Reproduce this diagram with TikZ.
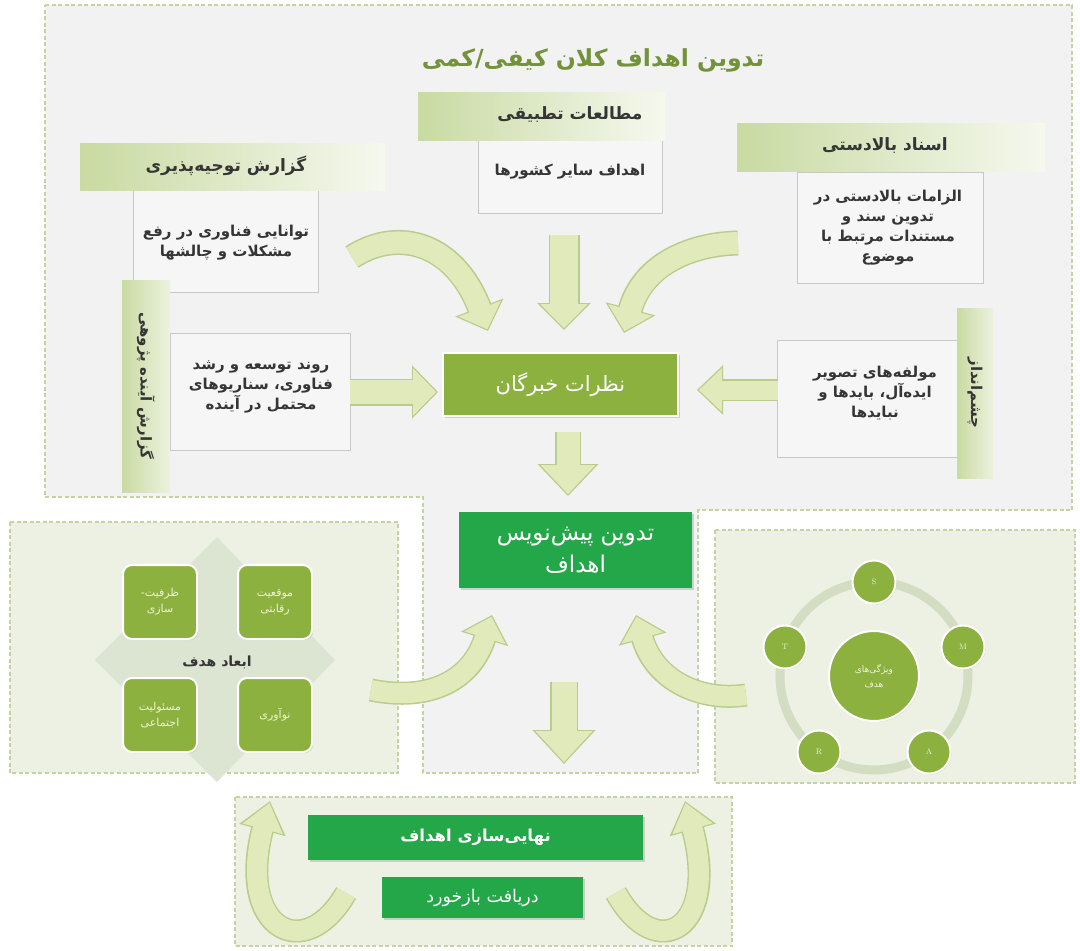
\documentclass[tikz,border=0pt]{standalone}
\usepackage{fontspec}
\newfontfamily\farsi[Script=Arabic]{DejaVu Sans}
\TeXXeTstate=1
\newcommand\fa[1]{{\beginR #1\endR}}
\usetikzlibrary{arrows.meta,shadows}
\definecolor{panelgray}{HTML}{F2F2F2}
\definecolor{dashgreen}{HTML}{C4D3A2}
\definecolor{palegreen}{HTML}{EDF1E3}
\definecolor{olivebox}{HTML}{8DB13F}
\definecolor{brightgreen}{HTML}{24A748}
\definecolor{arrowfill}{HTML}{E0EABB}
\definecolor{arrowedge}{HTML}{B9CC8B}
\definecolor{hdrgreen}{HTML}{C9DAA2}
\definecolor{titlegreen}{HTML}{74923A}
\definecolor{textdark}{HTML}{353535}
\definecolor{boxfill}{HTML}{F6F6F6}
\definecolor{boxline}{HTML}{C8C8C8}
\definecolor{ringcol}{HTML}{D2DDC2}
\definecolor{diamondcol}{HTML}{DCE4D2}
\definecolor{lighttext}{HTML}{EEF2DC}
\tikzset{
  panelline/.style={draw=dashgreen, line width=1.1pt, dash pattern=on 4pt off 2.5pt},
  hbar/.style={rectangle, inner sep=0pt, left color=hdrgreen, right color=hdrgreen!18},
  vbar/.style={rectangle, inner sep=0pt, left color=hdrgreen, right color=hdrgreen!35},
  hdrtext/.style={inner sep=0pt, text=textdark, font=\farsi\bfseries\fontsize{17}{20}\selectfont},
  contentbox/.style={rectangle, draw=boxline, fill=boxfill, line width=0.7pt, inner sep=0pt},
  boxtext/.style={inner sep=0pt, align=center, text=textdark, font=\farsi\bfseries\fontsize{15}{20}\selectfont},
  olivestep/.style={rectangle, fill=olivebox, draw=white, line width=1.5pt, inner sep=0pt, text=white,
    drop shadow={shadow xshift=1.5pt, shadow yshift=-1.5pt, opacity=.3}},
  greenstep/.style={rectangle, fill=brightgreen, inner sep=0pt, text=white, align=center,
    drop shadow={shadow xshift=1.5pt, shadow yshift=-1.5pt, opacity=.3}},
  quadbox/.style={rectangle, rounded corners=9pt, fill=olivebox, draw=white, line width=2pt,
    minimum width=74pt, minimum height=74pt, inner sep=0pt, align=center, text=lighttext,
    font=\farsi\fontsize{11}{16}\selectfont,
    drop shadow={shadow xshift=1.2pt, shadow yshift=-1.2pt, opacity=.3}},
  smallcirc/.style={circle, fill=olivebox, draw=white, line width=2pt, minimum size=43pt, inner sep=0pt,
    text=lighttext, font=\fontsize{8}{10}\selectfont,
    drop shadow={shadow xshift=1pt, shadow yshift=-1pt, opacity=.3}},
  barrowout/.style n args={3}{draw=arrowedge, line width=#1, -{Triangle[length=#3, width=#2]}},
  barrowin/.style n args={3}{draw=arrowfill, line width=#1, shorten >=1.8pt, -{Triangle[length=#3, width=#2]}},
}
\begin{document}
\begin{tikzpicture}[x=1pt, y=-1pt]
\useasboundingbox (0,0) rectangle (1080,951);
\fill[white] (0,0) rectangle (1080,951);

% ---------- panels ----------
\path[fill=panelgray, panelline] (45,5) -- (1072,5) -- (1072,510) -- (698,510) -- (698,773)
  -- (423,773) -- (423,497) -- (45,497) -- cycle;
\path[fill=palegreen, panelline] (10,522) rectangle (398,773);
\path[fill=palegreen, panelline] (715,530) rectangle (1075,783);
\path[fill=palegreen, panelline] (235,797) rectangle (732,946);

% ---------- title ----------
\node[inner sep=0pt, text=titlegreen, font=\farsi\bfseries\fontsize{23.5}{28}\selectfont] (title) at (593,60)
  {\fa{تدوین اهداف کلان کیفی/کمی}};

% ---------- content boxes ----------
\node[contentbox, minimum width=185pt, minimum height=102pt] (boxA) at (225.5,241) {};
\node[contentbox, minimum width=184pt, minimum height=73pt] (boxB) at (570,176.5) {};
\node[contentbox, minimum width=186pt, minimum height=111pt] (boxC) at (890,227.5) {};
\node[contentbox, minimum width=180pt, minimum height=117pt] (boxL) at (260,391.5) {};
\node[contentbox, minimum width=180pt, minimum height=117pt] (boxR) at (867,398.5) {};

% ---------- header bars ----------
\node[hbar, minimum width=305pt, minimum height=47pt] (hdrA) at (232.5,166.5) {};
\node[hbar, minimum width=247pt, minimum height=48pt] (hdrB) at (541.5,116) {};
\node[hbar, minimum width=308pt, minimum height=48pt] (hdrC) at (891,147) {};
\node[vbar, minimum width=48pt, minimum height=212pt] (vbarL) at (146,386) {};
\node[vbar, minimum width=36pt, minimum height=170pt] (vbarR) at (975,393) {};

\node[hdrtext] (hdrAt) at (226,166) {\fa{گزارش توجیه‌پذیری}};
\node[hdrtext] (hdrBt) at (570,115) {\fa{مطالعات تطبیقی}};
\node[hdrtext] (hdrCt) at (885,146) {\fa{اسناد بالادستی}};
\node[hdrtext, rotate=-90, font=\farsi\bfseries\fontsize{15}{18}\selectfont] (vbarLt) at (146,386) {\fa{گزارش آینده پژوهی}};
\node[hdrtext, rotate=-90, font=\farsi\bfseries\fontsize{15}{18}\selectfont] (vbarRt) at (975,393) {\fa{چشم‌انداز}};

% ---------- content texts ----------
\node[boxtext] (boxAt) at (226,243) {\fa{توانایی فناوری در رفع}\\\fa{مشکلات و چالشها}};
\node[boxtext] (boxBt) at (570,172) {\fa{اهداف سایر کشورها}};
\node[boxtext] (boxCt) at (888,228) {\fa{الزامات بالادستی در}\\\fa{تدوین سند و}\\\fa{مستندات مرتبط با}\\\fa{موضوع}};
\node[boxtext] (boxLt) at (261,387) {\fa{روند توسعه و رشد}\\\fa{فناوری، سناریوهای}\\\fa{محتمل در آینده}};
\node[boxtext] (boxRt) at (875,393) {\fa{مولفه‌های تصویر}\\\fa{ایده‌آل، بایدها و}\\\fa{نبایدها}};

% ---------- central steps ----------
\node[olivestep, minimum width=235pt, minimum height=63pt, font=\farsi\fontsize{21}{26}\selectfont] (experts) at (560.5,384.5) {\fa{نظرات خبرگان}};
\node[greenstep, minimum width=233pt, minimum height=76pt, font=\farsi\fontsize{23}{32}\selectfont] (draft) at (575.5,550) {\fa{تدوین پیش‌نویس}\\\fa{اهداف}};
\node[greenstep, minimum width=335pt, minimum height=45pt, font=\farsi\bfseries\fontsize{16.5}{22}\selectfont] (finalize) at (475.5,837.5) {\fa{نهایی‌سازی اهداف}};
\node[greenstep, minimum width=201pt, minimum height=41pt, font=\farsi\fontsize{17.5}{20}\selectfont] (feedback) at (482.5,897.5) {\fa{دریافت بازخورد}};

% ---------- goal dimensions ----------
\path[fill=diamondcol] (217,537) -- (335,660) -- (217,782) -- (95,660) -- cycle;
\node[quadbox] (qTL) at (160,602) {\fa{ظرفیت-}\\\fa{سازی}};
\node[quadbox] (qTR) at (275,602) {\fa{موقعیت}\\\fa{رقابتی}};
\node[quadbox] (qBL) at (160,715) {\fa{مسئولیت}\\\fa{اجتماعی}};
\node[quadbox] (qBR) at (275,715) {\fa{نوآوری}};
\node[inner sep=0pt, text=textdark, font=\farsi\bfseries\fontsize{14}{18}\selectfont] (dims) at (217,662) {\fa{ابعاد هدف}};

% ---------- goal characteristics ----------
\node[circle, draw=ringcol, line width=9pt, minimum size=188pt, inner sep=0pt] (ring) at (874,676) {};
\node[circle, fill=olivebox, draw=white, line width=2pt, minimum size=90pt, inner sep=0pt, align=center,
  text=lighttext, font=\farsi\fontsize{9}{15}\selectfont,
  drop shadow={shadow xshift=1pt, shadow yshift=-1pt, opacity=.3}] (traits) at (874,676) {\fa{ویژگی‌های}\\\fa{هدف}};
\node[smallcirc] (cS) at (874,582) {S};
\node[smallcirc] (cM) at (963,647) {M};
\node[smallcirc] (cA) at (929,752) {A};
\node[smallcirc] (cR) at (819,752) {R};
\node[smallcirc] (cT) at (785,647) {T};

% ---------- arrow end points ----------
\coordinate (aTopS) at (564,235);  \coordinate (aTopE) at (564,330);
\coordinate (aExpS) at (568,432);  \coordinate (aExpE) at (568,496);
\coordinate (aLowS) at (564,682);  \coordinate (aLowE) at (564,764);
\coordinate (aLS) at (350,392);    \coordinate (aLE) at (438,392);
\coordinate (aRS) at (778,390);    \coordinate (aRE) at (697,390);
\coordinate (cTLS) at (352,257);   \coordinate (cTLE) at (488,331);
\coordinate (cTRS) at (738,243);   \coordinate (cTRE) at (624,333);
\coordinate (cBLS) at (371,690);   \coordinate (cBLE) at (492,615);
\coordinate (cBRS) at (746,695);   \coordinate (cBRE) at (636,615);
\coordinate (cULS) at (346,893);   \coordinate (cULE) at (270,801);
\coordinate (cURS) at (616,893);   \coordinate (cURE) at (685,801);

% ---------- block arrows ----------
\foreach \p/\q/\w/\hw/\hl in {aTopS/aTopE/28/46/24, aExpS/aExpE/23/53/29, aLowS/aLowE/25/55/31,
    aLS/aLE/24/46/23, aRS/aRE/19/42/23}{
  \pgfmathsetmacro\wo{\w+3}\pgfmathsetmacro\hwo{\hw+6}\pgfmathsetmacro\hlo{\hl+3}
  \draw[barrowout={\wo pt}{\hwo pt}{\hlo pt}] (\p) -- (\q);
  \draw[barrowin={\w pt}{\hw pt}{\hl pt}] (\p) -- (\q);
}
\draw[barrowout={25pt}{50pt}{25pt}] (cTLS) .. controls (400,226) and (456,245) .. (cTLE);
\draw[barrowin={22pt}{44pt}{22pt}] (cTLS) .. controls (400,226) and (456,245) .. (cTLE);
\draw[barrowout={25pt}{50pt}{25pt}] (cTRS) .. controls (690,244) and (642,265) .. (cTRE);
\draw[barrowin={22pt}{44pt}{22pt}] (cTRS) .. controls (690,244) and (642,265) .. (cTRE);
\draw[barrowout={23pt}{48pt}{25pt}] (cBLS) .. controls (430,702) and (472,680) .. (cBLE);
\draw[barrowin={20pt}{42pt}{22pt}] (cBLS) .. controls (430,702) and (472,680) .. (cBLE);
\draw[barrowout={23pt}{48pt}{25pt}] (cBRS) .. controls (700,702) and (654,680) .. (cBRE);
\draw[barrowin={20pt}{42pt}{22pt}] (cBRS) .. controls (700,702) and (654,680) .. (cBRE);
\draw[barrowout={23pt}{46pt}{30pt}] (cULS) .. controls (305,965) and (236,930) .. (cULE);
\draw[barrowin={20pt}{40pt}{27pt}] (cULS) .. controls (305,965) and (236,930) .. (cULE);
\draw[barrowout={23pt}{46pt}{30pt}] (cURS) .. controls (656,965) and (720,930) .. (cURE);
\draw[barrowin={20pt}{40pt}{27pt}] (cURS) .. controls (656,965) and (720,930) .. (cURE);
\end{tikzpicture}
\end{document}
